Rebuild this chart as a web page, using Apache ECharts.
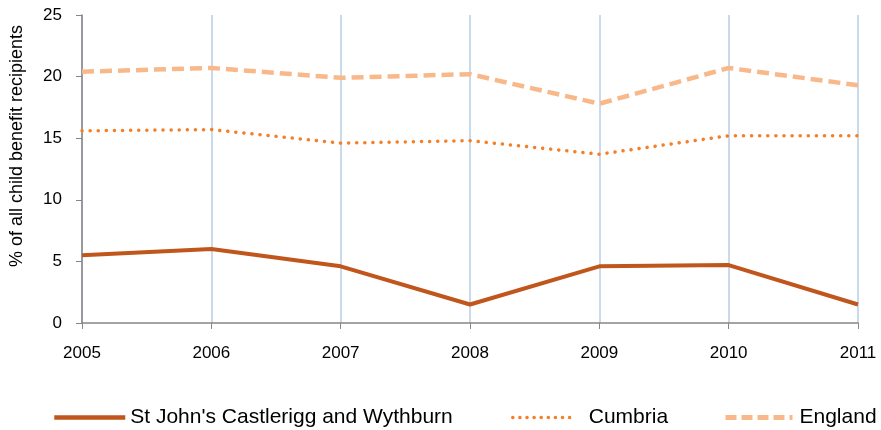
<!DOCTYPE html>
<html>
<head>
<meta charset="utf-8">
<script src="https://cdn.jsdelivr.net/npm/echarts@6/dist/echarts.min.js"></script>
<style>
  html, body { margin: 0; padding: 0; background: #fff; }
  #chart { width: 881px; height: 430px; }
</style>
</head>
<body>
<div id="chart"></div>
<script>
// data
const years = ["2005", "2006", "2007", "2008", "2009", "2010", "2011"];
const stJohns = [5.5, 6.0, 4.6, 1.5, 4.6, 4.7, 1.5];
const cumbria = [15.6, 15.7, 14.6, 14.8, 13.7, 15.2, 15.2];
const england = [20.4, 20.7, 19.9, 20.2, 17.8, 20.7, 19.3];
const seriesNames = ["St John's Castlerigg and Wythburn", "Cumbria", "England"];

const font = "Liberation Sans, Arial, sans-serif";

function legendFor(name, left, width, gap, line) {
  return {
    data: [name],
    left: left,
    top: 407,
    padding: 0,
    itemWidth: width,
    itemHeight: 14,
    itemStyle: { opacity: 0 },
    lineStyle: line,
    textStyle: { fontSize: 21, color: "#000", fontFamily: font, padding: [0, 0, 0, gap] }
  };
}

let myChart = echarts.init(document.getElementById("chart"));

let option = {
  animation: false,
  textStyle: { fontFamily: font },
  grid: {
    left: 82,
    right: 23,
    top: 15,
    bottom: 107
  },
  legend: [
    legendFor(seriesNames[0], 52, 71, 0, { width: 4.5, type: "solid" }),
    legendFor(seriesNames[1], 511, 61, 10, { width: 3.5, type: [0.1, 7], cap: "round" }),
    legendFor(seriesNames[2], 723, 67, 2, { width: 5, type: [11, 5] })
  ],
  graphic: [
    {
      type: "text",
      x: 17,
      y: 146,
      rotation: Math.PI / 2,
      style: {
        text: "% of all child benefit recipients",
        font: "18px " + font,
        fill: "#000",
        align: "center",
        verticalAlign: "middle"
      }
    }
  ],
  xAxis: {
    type: "category",
    data: years,
    boundaryGap: false,
    axisLine: { lineStyle: { color: "#868686", width: 1.5 } },
    axisTick: { alignWithLabel: true, length: 6, lineStyle: { color: "#868686" } },
    axisLabel: { color: "#000", fontSize: 17, margin: 22 },
    splitLine: { show: true, lineStyle: { color: "#b9cde5", width: 1.5 } }
  },
  yAxis: {
    type: "value",
    min: 0,
    max: 25,
    interval: 5,
    axisLine: { show: true, lineStyle: { color: "#868686", width: 1.5 } },
    axisTick: { show: true, length: 6, lineStyle: { color: "#868686" } },
    axisLabel: { color: "#000", fontSize: 17, margin: 20 },
    splitLine: { show: false }
  },
  series: [
    {
      name: seriesNames[0],
      type: "line",
      data: stJohns,
      symbol: "none",
      lineStyle: { color: "#c0561c", width: 4, type: "solid" },
      itemStyle: { color: "#c0561c" }
    },
    {
      name: seriesNames[1],
      type: "line",
      data: cumbria,
      symbol: "none",
      lineStyle: { color: "#f47f27", width: 3.5, type: [0.1, 8], cap: "round" },
      itemStyle: { color: "#f47f27" }
    },
    {
      name: seriesNames[2],
      type: "line",
      data: england,
      symbol: "none",
      lineStyle: { color: "#f9b88a", width: 4.5, type: [12, 6] },
      itemStyle: { color: "#f9b88a" }
    }
  ]
};

myChart.setOption(option);
</script>
</body>
</html>
